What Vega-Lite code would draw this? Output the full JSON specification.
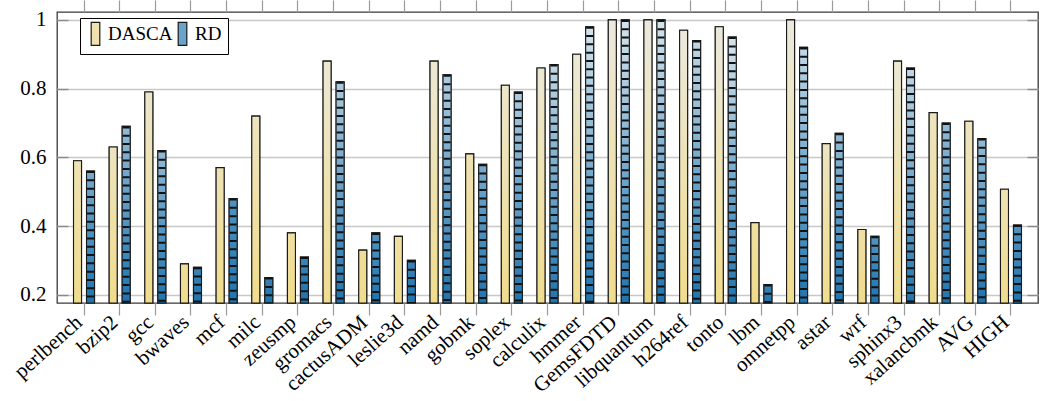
{
  "$schema": "https://vega.github.io/schema/vega-lite/v6.json",
  "width": 981,
  "height": 291,
  "autosize": {"type": "none"},
  "padding": {"left": 57, "top": 12, "right": 2, "bottom": 98},
  "background": "white",
  "config": {
    "view": {"stroke": "#3a3a3a", "strokeWidth": 1.3},
    "font": "Liberation Serif",
    "axis": {"labelFont": "Liberation Serif", "labelFontSize": 21, "labelColor": "black"}
  },
  "data": {
    "values": [
      {"bench": "perlbench", "series": "DASCA", "value": 0.59}, {"bench": "perlbench", "series": "RD", "value": 0.56},
      {"bench": "bzip2", "series": "DASCA", "value": 0.63}, {"bench": "bzip2", "series": "RD", "value": 0.69},
      {"bench": "gcc", "series": "DASCA", "value": 0.79}, {"bench": "gcc", "series": "RD", "value": 0.62},
      {"bench": "bwaves", "series": "DASCA", "value": 0.29}, {"bench": "bwaves", "series": "RD", "value": 0.28},
      {"bench": "mcf", "series": "DASCA", "value": 0.57}, {"bench": "mcf", "series": "RD", "value": 0.48},
      {"bench": "milc", "series": "DASCA", "value": 0.72}, {"bench": "milc", "series": "RD", "value": 0.25},
      {"bench": "zeusmp", "series": "DASCA", "value": 0.38}, {"bench": "zeusmp", "series": "RD", "value": 0.31},
      {"bench": "gromacs", "series": "DASCA", "value": 0.88}, {"bench": "gromacs", "series": "RD", "value": 0.82},
      {"bench": "cactusADM", "series": "DASCA", "value": 0.33}, {"bench": "cactusADM", "series": "RD", "value": 0.38},
      {"bench": "leslie3d", "series": "DASCA", "value": 0.37}, {"bench": "leslie3d", "series": "RD", "value": 0.30},
      {"bench": "namd", "series": "DASCA", "value": 0.88}, {"bench": "namd", "series": "RD", "value": 0.84},
      {"bench": "gobmk", "series": "DASCA", "value": 0.61}, {"bench": "gobmk", "series": "RD", "value": 0.58},
      {"bench": "soplex", "series": "DASCA", "value": 0.81}, {"bench": "soplex", "series": "RD", "value": 0.79},
      {"bench": "calculix", "series": "DASCA", "value": 0.86}, {"bench": "calculix", "series": "RD", "value": 0.87},
      {"bench": "hmmer", "series": "DASCA", "value": 0.90}, {"bench": "hmmer", "series": "RD", "value": 0.98},
      {"bench": "GemsFDTD", "series": "DASCA", "value": 1.0}, {"bench": "GemsFDTD", "series": "RD", "value": 1.0},
      {"bench": "libquantum", "series": "DASCA", "value": 1.0}, {"bench": "libquantum", "series": "RD", "value": 1.0},
      {"bench": "h264ref", "series": "DASCA", "value": 0.97}, {"bench": "h264ref", "series": "RD", "value": 0.94},
      {"bench": "tonto", "series": "DASCA", "value": 0.98}, {"bench": "tonto", "series": "RD", "value": 0.95},
      {"bench": "lbm", "series": "DASCA", "value": 0.41}, {"bench": "lbm", "series": "RD", "value": 0.23},
      {"bench": "omnetpp", "series": "DASCA", "value": 1.0}, {"bench": "omnetpp", "series": "RD", "value": 0.92},
      {"bench": "astar", "series": "DASCA", "value": 0.64}, {"bench": "astar", "series": "RD", "value": 0.67},
      {"bench": "wrf", "series": "DASCA", "value": 0.39}, {"bench": "wrf", "series": "RD", "value": 0.37},
      {"bench": "sphinx3", "series": "DASCA", "value": 0.88}, {"bench": "sphinx3", "series": "RD", "value": 0.86},
      {"bench": "xalancbmk", "series": "DASCA", "value": 0.73}, {"bench": "xalancbmk", "series": "RD", "value": 0.70},
      {"bench": "AVG", "series": "DASCA", "value": 0.705}, {"bench": "AVG", "series": "RD", "value": 0.655},
      {"bench": "HIGH", "series": "DASCA", "value": 0.507}, {"bench": "HIGH", "series": "RD", "value": 0.403}
    ]
  },
  "encoding": {
    "xOffset": {"field": "series", "type": "nominal", "scale": {"domain": ["DASCA", "RD"], "paddingInner": 0.385, "paddingOuter": 0}},
    "y2": {"datum": 0.176}
  },
  "layer": [
    {
      "mark": {"type": "bar", "stroke": "#1a1a1a", "strokeWidth": 1.1},
      "encoding": {
        "x": {
          "field": "bench", "type": "nominal", "sort": null,
          "scale": {"paddingInner": 0.411, "paddingOuter": 0.4635},
          "axis": {"orient": "bottom", "title": null, "labelAngle": -42, "labelAlign": "right", "labelBaseline": "top", "labelOffset": -12, "tickSize": 12, "tickColor": "#9a9a9a", "tickWidth": 1.2, "domain": false, "labelPadding": -4, "grid": false}
        },
        "y": {
          "field": "value", "type": "quantitative",
          "scale": {"domain": [0.176, 1.023], "nice": false, "zero": false},
          "axis": {"orient": "left", "title": null, "values": [0.2, 0.4, 0.6, 0.8, 1], "labelExpr": "datum.value == 1 ? '1' : format(datum.value, '.1f')", "grid": true, "gridColor": "#c8c8c8", "gridWidth": 1.5, "ticks": true, "tickSize": -11, "tickColor": "#8a8a8a", "tickWidth": 1.4, "domain": false, "labelPadding": 22}
        },
        "fill": {
          "field": "series", "type": "nominal",
          "scale": {"domain": ["DASCA", "RD"], "range": ["#efe2ae", "#6aa3cc"]},
          "legend": {
            "title": null, "orient": "none", "legendX": 23, "legendY": 6, "direction": "horizontal",
            "fillColor": "white", "strokeColor": "black", "padding": 6,
            "symbolType": "M-0.75,-2H0.75V2H-0.75Z", "symbolSize": 132,
            "symbolStrokeColor": "black", "symbolStrokeWidth": 1.2,
            "labelFont": "Liberation Serif", "labelFontSize": 19, "labelColor": "black",
            "labelOffset": 3, "columnPadding": 0,
            "encode": {
              "symbols": {
                "update": {
                  "stroke": {"value": "#1a1a1a"},
                  "strokeWidth": {"value": 1.2}
                }
              }
            }
          }
        }
      }
    },
    {
      "mark": {"type": "bar", "stroke": "#1a1a1a", "strokeWidth": 1.1},
      "encoding": {
        "x": {
          "field": "bench", "type": "nominal", "sort": null,
          "scale": {"paddingInner": 0.411, "paddingOuter": 0.4635},
          "axis": {"orient": "top", "title": null, "labels": false, "tickSize": 12, "tickColor": "#9a9a9a", "tickWidth": 1.2, "domain": false, "grid": false}
        },
        "y": {
          "field": "value", "type": "quantitative",
          "scale": {"domain": [0.176, 1.023], "nice": false, "zero": false},
          "axis": {"orient": "right", "title": null, "values": [0.2, 0.4, 0.6, 0.8, 1], "labels": false, "grid": false, "ticks": true, "tickSize": -11, "tickColor": "#8a8a8a", "tickWidth": 1.4, "domain": false}
        },
        "fill": {
          "condition": [
            {"test": "datum.series === 'DASCA' && datum.value >= 0.95", "value": {"gradient": "linear", "x1": 0, "y1": 1, "x2": 0, "y2": 0, "stops": [{"offset": 0, "color": "#f0dc8c"}, {"offset": 1, "color": "#ebe9de"}]}},
            {"test": "datum.series === 'DASCA' && datum.value >= 0.85", "value": {"gradient": "linear", "x1": 0, "y1": 1, "x2": 0, "y2": 0, "stops": [{"offset": 0, "color": "#f0dc8c"}, {"offset": 1, "color": "#ece8d4"}]}},
            {"test": "datum.series === 'DASCA' && datum.value >= 0.75", "value": {"gradient": "linear", "x1": 0, "y1": 1, "x2": 0, "y2": 0, "stops": [{"offset": 0, "color": "#f0dc8c"}, {"offset": 1, "color": "#ece6cb"}]}},
            {"test": "datum.series === 'DASCA' && datum.value >= 0.62", "value": {"gradient": "linear", "x1": 0, "y1": 1, "x2": 0, "y2": 0, "stops": [{"offset": 0, "color": "#f0dc8c"}, {"offset": 1, "color": "#ede4c0"}]}},
            {"test": "datum.series === 'DASCA' && datum.value >= 0.5", "value": {"gradient": "linear", "x1": 0, "y1": 1, "x2": 0, "y2": 0, "stops": [{"offset": 0, "color": "#f0dc8c"}, {"offset": 1, "color": "#eee2b4"}]}},
            {"test": "datum.series === 'DASCA' && datum.value >= 0.35", "value": {"gradient": "linear", "x1": 0, "y1": 1, "x2": 0, "y2": 0, "stops": [{"offset": 0, "color": "#f0dc8c"}, {"offset": 1, "color": "#efe0a3"}]}},
            {"test": "datum.series === 'DASCA'", "value": {"gradient": "linear", "x1": 0, "y1": 1, "x2": 0, "y2": 0, "stops": [{"offset": 0, "color": "#f0dc8c"}, {"offset": 1, "color": "#efde98"}]}},
            {"test": "datum.value >= 0.95", "value": {"gradient": "linear", "x1": 0, "y1": 1, "x2": 0, "y2": 0, "stops": [{"offset": 0, "color": "#1f74ae"}, {"offset": 1, "color": "#d5e4ed"}]}},
            {"test": "datum.value >= 0.85", "value": {"gradient": "linear", "x1": 0, "y1": 1, "x2": 0, "y2": 0, "stops": [{"offset": 0, "color": "#1f74ae"}, {"offset": 1, "color": "#c0d7e6"}]}},
            {"test": "datum.value >= 0.75", "value": {"gradient": "linear", "x1": 0, "y1": 1, "x2": 0, "y2": 0, "stops": [{"offset": 0, "color": "#1f74ae"}, {"offset": 1, "color": "#accadf"}]}},
            {"test": "datum.value >= 0.62", "value": {"gradient": "linear", "x1": 0, "y1": 1, "x2": 0, "y2": 0, "stops": [{"offset": 0, "color": "#1f74ae"}, {"offset": 1, "color": "#92bad6"}]}},
            {"test": "datum.value >= 0.5", "value": {"gradient": "linear", "x1": 0, "y1": 1, "x2": 0, "y2": 0, "stops": [{"offset": 0, "color": "#1f74ae"}, {"offset": 1, "color": "#78aacd"}]}},
            {"test": "datum.value >= 0.35", "value": {"gradient": "linear", "x1": 0, "y1": 1, "x2": 0, "y2": 0, "stops": [{"offset": 0, "color": "#1f74ae"}, {"offset": 1, "color": "#5193bf"}]}}
          ],
          "value": {"gradient": "linear", "x1": 0, "y1": 1, "x2": 0, "y2": 0, "stops": [{"offset": 0, "color": "#1f74ae"}, {"offset": 1, "color": "#3984b7"}]}
        }
      }
    },
    {
      "transform": [{"filter": "datum.series === 'RD'"}],
      "mark": {"type": "rule", "stroke": "#111111", "strokeWidth": 7, "strokeDash": [2, 6.3], "strokeCap": "butt"},
      "encoding": {
        "x": {
          "field": "bench", "type": "nominal", "sort": null,
          "scale": {"paddingInner": 0.411, "paddingOuter": 0.4635},
          "axis": null
        },
        "y": {
          "field": "value", "type": "quantitative",
          "scale": {"domain": [0.176, 1.023], "nice": false, "zero": false},
          "axis": null
        }
      }
    }
  ],
  "resolve": {"axis": {"x": "independent", "y": "independent"}}
}
